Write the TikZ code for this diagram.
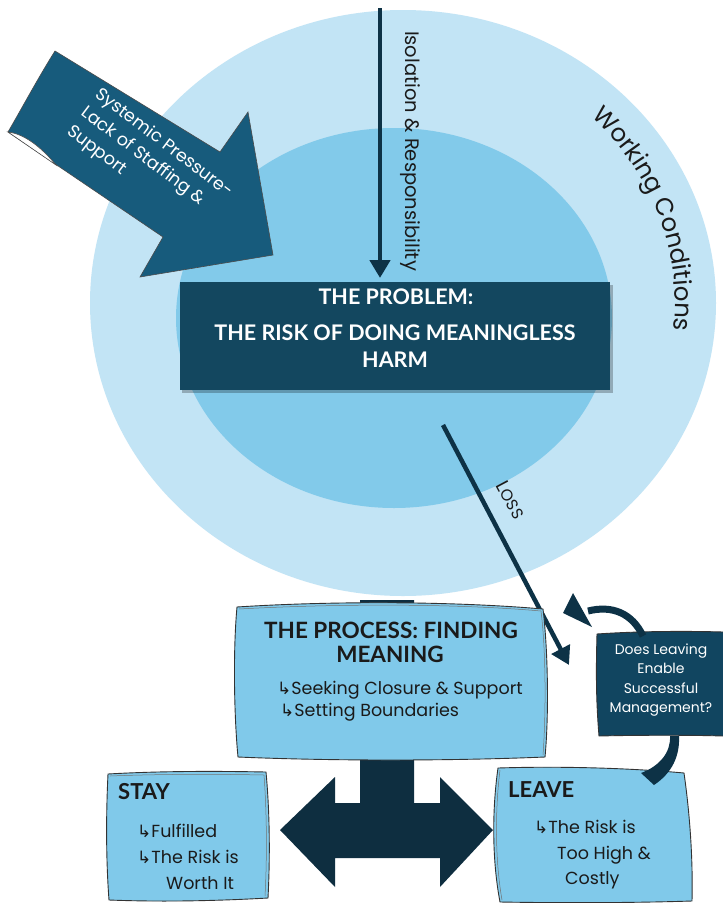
\documentclass[tikz,border=0pt]{standalone}
\usepackage{fontspec}
\setmainfont{Poppins}
\newfontfamily\hfont{Lato}
\newfontfamily\dvfont{DejaVu Sans}
\usetikzlibrary{decorations.text,calc,arrows.meta}
\definecolor{ring}{HTML}{C2E4F5}
\definecolor{core}{HTML}{82CAEA}
\definecolor{boxblue}{HTML}{80C9EA}
\definecolor{navy}{HTML}{13475F}
\definecolor{qnavy}{HTML}{114560}
\definecolor{tealnavy}{HTML}{175B7C}
\definecolor{ink}{HTML}{0D3246}
\definecolor{tdark}{HTML}{0E2E40}
\definecolor{txt}{HTML}{1A1A1A}
\newcommand\hk{{\dvfont\fontsize{17}{17}\selectfont\char"21B3}}
\tikzset{
  fs/.style={font=\fontsize{#1}{#1}\selectfont},
  body/.style={text=txt, font=\fontsize{17.5}{17.5}\selectfont, inner sep=0pt},
  head/.style={text=txt, font=\hfont\bfseries\fontsize{#1}{#1}\selectfont, inner sep=0pt},
  outl/.style={draw=black!80, line width=0.9pt},
  outl2/.style={draw=black!55, line width=0.5pt},
  linkarrow/.style={draw=ink, line width=4.5pt, -{Triangle[length=18pt,width=20pt]}}
}
\begin{document}
\begin{tikzpicture}[x=1pt,y=-1pt]
\useasboundingbox (0,0) rectangle (723,903);
\fill[white] (0,0) rectangle (723,903);
% circles
\fill[ring] (403,303) ellipse [x radius=313, y radius=293];
\fill[core] (394,318) ellipse [x radius=218, y radius=190];
% working conditions
\path[decorate, decoration={text along path, text align=center,
  text={|\fontsize{24.5}{24.5}\selectfont\color{txt}|Working Conditions}}]
  ($(403,303)+(-53:272 and 258)$) arc[start angle=-53, end angle=13, x radius=272, y radius=258];
% systemic arrow
\filldraw[fill=tealnavy, draw=black!70, line width=0.6pt]
  (55,51) .. controls (38,78) and (22,108) .. (8,132) -- (163,237) -- (140,277)
  -- (273,255) -- (248,112) -- (220,152) -- cycle;
\filldraw[fill=white, draw=black!70, line width=0.6pt]
  (8,132) .. controls (25,134) and (42,148) .. (56,165) -- cycle;
\node[white, rotate=-37, align=left, inner sep=0pt, font=\fontsize{17.5}{23}\selectfont] (sysT) at (150,162)
  {Systemic Pressure-\\Lack of Staffing \&\\Support};
% isolation arrow
\coordinate (isoS) at (380,8);
\coordinate (isoE) at (380,278);
\draw[linkarrow] (isoS) -- (isoE);
\node[rotate=-90, body, fs=19.5] (isoL) at (410,151) {Isolation \& Responsibility};
% problem box
\fill[black, opacity=0.25] (182,285) rectangle (613,393);
\node[fill=navy, minimum width=430pt, minimum height=108pt, inner sep=0pt] (prob) at (395,336) {};
\node[head=21.5, text=white] (probT1) at (396,297) {THE PROBLEM:};
\node[head=21.5, text=white] (probT2) at (395,333) {THE RISK OF DOING MEANINGLESS};
\node[head=21.5, text=white] (probT3) at (395,360) {HARM};
% loss arrow
\coordinate (lossS) at (443,425);
\coordinate (lossE) at (569,665);
\draw[linkarrow] (lossS) -- (lossE);
\node[rotate=-62, body, fs=19] (lossL) at (511,500) {L{\fontsize{16}{16}\selectfont OSS}};
% T double arrow
\fill[tdark] (360,600) -- (414,600) -- (414,803) -- (440,803) -- (440,777) -- (493,830)
  -- (440,887) -- (440,858) -- (335,858) -- (335,887) -- (280,830) -- (335,777)
  -- (335,803) -- (360,803) -- cycle;
% process box
\path[fill=boxblue] (237,607) .. controls (330,601) and (450,601) .. (543,609)
  .. controls (548,650) and (549,715) .. (545,757) .. controls (450,761) and (330,761) .. (238,757)
  .. controls (234,715) and (233,650) .. cycle;
\draw[outl] (237,607) .. controls (330,601) and (450,601) .. (543,609)
  .. controls (548,650) and (549,715) .. (545,757) .. controls (450,761) and (330,761) .. (238,757)
  .. controls (234,715) and (233,650) .. cycle;
\draw[outl2] (239,609) .. controls (330,604) and (450,603) .. (541,611)
  .. controls (546,650) and (546,715) .. (543,755);
\node[head=22.5] (procT1) at (391,630) {THE PROCESS: FINDING};
\node[head=22.5] (procT2) at (390,654) {MEANING};
\node[body, anchor=west] (procA) at (277,690) {\hk Seeking Closure \& Support};
\node[body, anchor=west] (procB) at (280,712) {\hk Setting Boundaries};
% stay box
\path[fill=boxblue] (108,774) .. controls (160,771) and (215,771) .. (266,772)
  .. controls (270,815) and (270,860) .. (268,898) .. controls (215,901) and (160,902) .. (109,900)
  .. controls (106,860) and (106,815) .. cycle;
\draw[outl] (108,774) .. controls (160,771) and (215,771) .. (266,772)
  .. controls (270,815) and (270,860) .. (268,898) .. controls (215,901) and (160,902) .. (109,900)
  .. controls (106,860) and (106,815) .. cycle;
\draw[outl2] (110,776) .. controls (160,774) and (215,774) .. (264,775)
  .. controls (267,815) and (267,860) .. (265,896);
\node[head=22, anchor=west] (stayT) at (118,792) {STAY};
\node[body, anchor=west] (stayA) at (137,831) {\hk Fulfilled};
\node[body, anchor=west] (stayB) at (137,857) {\hk The Risk is};
\node[body, anchor=west] (stayC) at (166,883) {Worth It};
% leave box
\path[fill=boxblue] (498,768) .. controls (560,766) and (630,768) .. (684,773)
  .. controls (690,815) and (693,860) .. (692,901) .. controls (630,903) and (560,903) .. (500,902)
  .. controls (492,860) and (492,810) .. cycle;
\draw[outl] (498,768) .. controls (560,766) and (630,768) .. (684,773)
  .. controls (690,815) and (693,860) .. (692,901) .. controls (630,903) and (560,903) .. (500,902)
  .. controls (492,860) and (492,810) .. cycle;
\draw[outl2] (500,770) .. controls (495,810) and (495,860) .. (502,900);
\node[head=22, anchor=west] (leaveT) at (508,790) {LEAVE};
\node[body, anchor=west] (leaveA) at (534,827) {\hk The Risk is};
\node[body, anchor=west] (leaveB) at (557,855) {Too High \&};
\node[body, anchor=west] (leaveC) at (565,880) {Costly};
% question box
\path[fill=qnavy] (597,634) .. controls (640,631) and (690,631) .. (723,632)
  -- (723,736) .. controls (690,735) and (640,735) .. (599,736)
  .. controls (596,700) and (596,670) .. cycle;
\draw[outl] (597,634) .. controls (640,631) and (690,631) .. (723,632)
  (723,736) .. controls (690,735) and (640,735) .. (599,736)
  .. controls (596,700) and (596,670) .. (597,634);
\node[white, align=center, inner sep=0pt, font=\fontsize{14}{19.5}\selectfont] (qT) at (661,680)
  {Does Leaving\\Enable\\Successful\\Management?};
% circular arrows
\coordinate (qTop) at (643,636);
\coordinate (qHead) at (588,611);
\draw[ink, line width=7pt] (qTop) .. controls (632,613) and (612,605) .. (qHead);
\fill[ink] (563,613) -- (573,593) -- (592,627) -- cycle;
\coordinate (qBot) at (674,736);
\coordinate (lvTop) at (647,779);
\fill[ink] (670,736) .. controls (671,752) and (660,766) .. (641,773) -- (654,785)
  .. controls (672,773) and (680,756) .. (679,736) -- cycle;
\end{tikzpicture}
\end{document}
